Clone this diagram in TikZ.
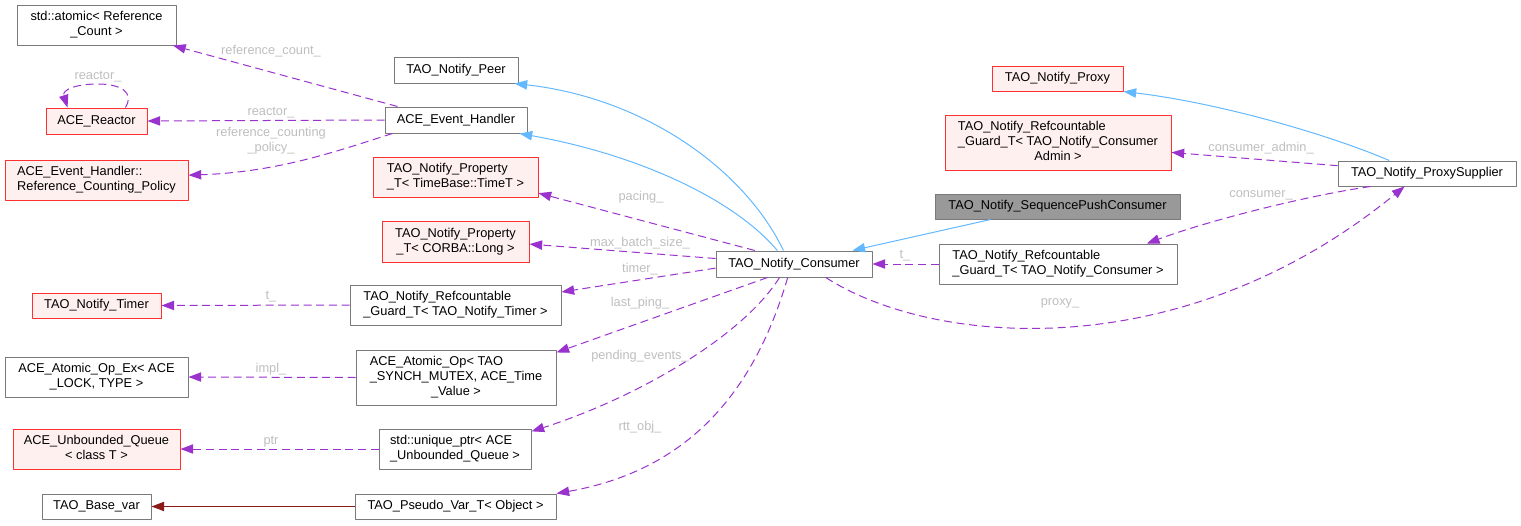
\documentclass[tikz,border=0pt]{standalone}
\usepackage{fontspec}
\setmainfont{Liberation Sans}
\usepackage{tikz}
\usetikzlibrary{arrows.meta}
\definecolor{boxgray}{HTML}{7A7A7A}
\definecolor{boxred}{HTML}{FF3030}
\definecolor{boxpink}{HTML}{FFF0F0}
\definecolor{focusgray}{HTML}{999999}
\definecolor{inheritblue}{HTML}{63B8FF}
\definecolor{memberpurple}{HTML}{9A32CD}
\definecolor{labelgray}{HTML}{BEBEBE}
\definecolor{templatered}{HTML}{8B1A1A}
% all lines but the last flush left, the last one centred
\newcommand{\cls}[2]{\begin{tabular}{@{}l@{}}#1\\\multicolumn{1}{@{}c@{}}{#2}\end{tabular}}
\tikzset{
  box/.style={draw=boxgray,fill=white,line width=0.75pt,inner sep=0pt,
    font=\fontsize{9.6}{11.25}\selectfont},
  redbox/.style={box,draw=boxred,fill=boxpink},
  wh/.style 2 args={minimum width=#1*0.75pt,minimum height=#2*0.75pt},
  member/.style={->,memberpurple,line width=0.75pt,dash pattern=on 6pt off 3.5pt},
  inherit/.style={->,inheritblue,line width=0.75pt},
  lbl/.style={labelgray,inner sep=0pt,align=center,font=\fontsize{9.6}{11.25}\selectfont}
}
\begin{document}
\begin{tikzpicture}[line join=round,>={Triangle[length=9.5pt,width=7pt]},x=0.75pt,y=-0.75pt]
\useasboundingbox (0,0) rectangle (1521,525);
% left column
\node[box,wh={159}{40}] (atomic) at (96.5,25) {\cls{std::atomic< Reference}{\_Count >}};
\node[redbox,wh={101}{26}] (reactor) at (96.5,121) {ACE\_Reactor};
\node[redbox,wh={183}{40}] (policy) at (96.5,180) {\cls{ACE\_Event\_Handler::}{Reference\_Counting\_Policy}};
\node[redbox,wh={129}{25}] (timer) at (96.5,305.5) {TAO\_Notify\_Timer};
\node[box,wh={183}{40}] (opex) at (96.5,377) {\cls{ACE\_Atomic\_Op\_Ex< ACE}{\_LOCK, TYPE >}};
\node[redbox,wh={167}{40}] (queue) at (96.5,449) {\cls{ACE\_Unbounded\_Queue}{< class T >}};
\node[box,wh={109}{25}] (basevar) at (96.5,506.5) {TAO\_Base\_var};
% middle column
\node[box,wh={124}{26}] (peer) at (456,70) {TAO\_Notify\_Peer};
\node[box,wh={142}{26}] (handler) at (456,120) {ACE\_Event\_Handler};
\node[redbox,wh={165}{40}] (timeprop) at (455.5,177) {\cls{TAO\_Notify\_Property}{\_T< TimeBase::TimeT >}};
\node[redbox,wh={147}{41}] (longprop) at (455.5,241.5) {\cls{TAO\_Notify\_Property}{\_T< CORBA::Long >}};
\node[box,wh={211}{40}] (timerguard) at (455.5,305) {\cls{TAO\_Notify\_Refcountable}{\_Guard\_T< TAO\_Notify\_Timer >}};
\node[box,wh={200}{55}] (atomicop) at (456,377.5) {\cls{ACE\_Atomic\_Op< TAO\\\_SYNCH\_MUTEX, ACE\_Time}{\_Value >}};
\node[box,wh={152}{40}] (uptr) at (455,449) {\cls{std::unique\_ptr< ACE}{\_Unbounded\_Queue >}};
\node[box,wh={201}{25}] (pseudovar) at (455.5,506.5) {TAO\_Pseudo\_Var\_T< Object >};
% consumer and right side
\node[box,wh={156}{26}] (consumer) at (794,264) {TAO\_Notify\_Consumer};
\node[redbox,wh={131}{25}] (proxy) at (1057.5,78.5) {TAO\_Notify\_Proxy};
\node[redbox,wh={226}{55}] (adminguard) at (1058,142.5) {\cls{TAO\_Notify\_Refcountable\\\_Guard\_T< TAO\_Notify\_Consumer}{Admin >}};
\node[box,fill=focusgray,wh={245}{25}] (seqpush) at (1057.5,206.5) {TAO\_Notify\_SequencePushConsumer};
\node[box,wh={238}{40}] (consumerguard) at (1058,264) {\cls{TAO\_Notify\_Refcountable}{\_Guard\_T< TAO\_Notify\_Consumer >}};
\node[box,wh={178}{25}] (supplier) at (1427,173.5) {TAO\_Notify\_ProxySupplier};
% inheritance
\draw[inherit] (consumer.128) .. controls (745,170) and (645,98) .. (peer.347);
\draw[inherit] (consumer.141) .. controls (735,200) and (640,155) .. (handler.348);
\draw[inherit] (seqpush.191) -- (consumer.13);
\draw[inherit] (supplier.161) .. controls (1330,135) and (1220,103) .. (proxy.south east);
\draw[->,templatered,line width=0.75pt] (pseudovar.west) -- (basevar.east);
% members of ACE_Event_Handler
\draw[member] (handler.167) -- (atomic.345) node[lbl] (lcount) at (271,51) {reference\_count\_};
\draw[member] (reactor.25) .. controls (135,92) and (120,84) .. (98,84) .. controls (75,84) and (62,90) .. (reactor.155) node[lbl] (lloop) at (98,77) {reactor\_};
\draw[member] (handler.west) -- (reactor.east) node[lbl] (lreactor) at (271,113) {reactor\_};
\draw[member] (handler.192) .. controls (340,150) and (280,172) .. (policy.3) node[lbl] (lpolicy) at (271,140.5) {reference\_counting\\\_policy\_};
% members further left
\draw[member] (timerguard.west) -- (timer.east) node[lbl] (ltimer) at (271,297) {t\_};
\draw[member] (atomicop.west) -- (opex.east) node[lbl] (limpl) at (271,369) {impl\_};
\draw[member] (uptr.west) -- (queue.east) node[lbl] (lptr) at (271,442) {ptr};
% members of TAO_Notify_Consumer
\draw[member] (consumer.161) -- (timeprop.349) node[lbl] (lpacing) at (641,197) {pacing\_};
\draw[member] (consumer.176) -- (longprop.358) node[lbl] (lbatch) at (640,243) {max\_batch\_size\_};
\draw[member] (consumer.183) -- (timerguard.7) node[lbl] (ltimer2) at (640,269) {timer\_};
\draw[member] (consumer.207) -- (atomicop.14) node[lbl] (lping) at (640,303) {last\_ping\_};
\draw[member] (consumer.223) .. controls (740,340) and (630,400) .. (uptr.13) node[lbl] (lpending) at (640,356) {pending\_events\_};
\draw[member] (consumer.245) .. controls (755,390) and (690,470) .. (pseudovar.north east) node[lbl] (lrtt) at (640,427) {rtt\_obj\_};
\draw[member] (consumer.337) .. controls (930,345) and (1180,370) .. (supplier.210) node[lbl] (lproxy) at (1060,303) {proxy\_};
\draw[member] (consumerguard.west) -- (consumer.east) node[lbl] (lt) at (905,256) {t\_};
% members of TAO_Notify_ProxySupplier
\draw[member] (supplier.175) -- (adminguard.355) node[lbl] (ladmin) at (1261,148) {consumer\_admin\_};
\draw[member] (supplier.193) .. controls (1310,195) and (1210,220) .. (consumerguard.13) node[lbl] (lconsumer) at (1261,195) {consumer\_};
\end{tikzpicture}
\end{document}
